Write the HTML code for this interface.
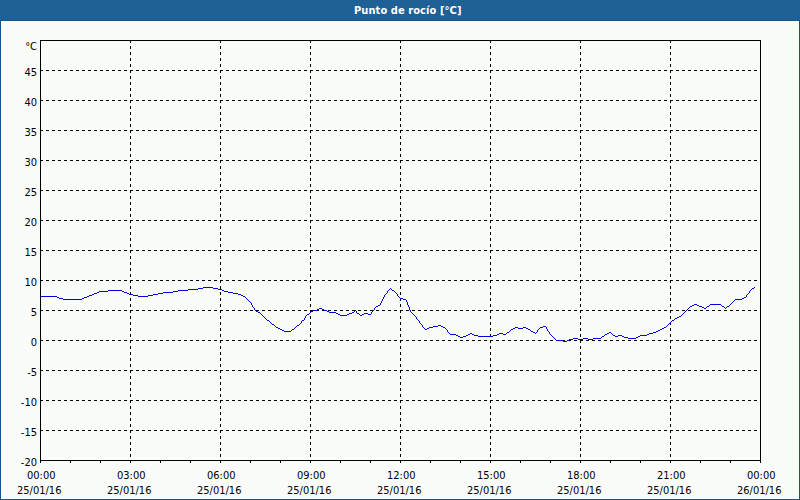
<!DOCTYPE html>
<html><head><meta charset="utf-8"><title>Punto de rocío</title>
<style>
html,body{margin:0;padding:0;}
body{width:800px;height:500px;position:relative;overflow:hidden;background:#f9fcf8;
font-family:"DejaVu Sans Condensed","DejaVu Sans","Liberation Sans",sans-serif;font-stretch:condensed;font-size:11px;color:#000;}
#bar{position:absolute;left:0;top:0;width:800px;height:20px;background:#1e6092;border-bottom:1px solid #0f548f;}
#title{position:absolute;left:0;top:0;width:800px;height:20px;color:#fff;font-weight:bold;}
#title span{position:absolute;letter-spacing:0.08px;left:354px;top:5px;line-height:11px;white-space:nowrap;}
#lb{position:absolute;left:0;top:21px;width:1px;height:479px;background:#0f548f;}
#rb{position:absolute;left:799px;top:21px;width:1px;height:479px;background:#0f548f;}
#bb{position:absolute;left:0;top:499px;width:800px;height:1px;background:#0f548f;}
.yl{position:absolute;right:763px;line-height:11px;white-space:nowrap;text-align:right;}
.xl{position:absolute;line-height:11px;white-space:nowrap;}
svg{position:absolute;left:0;top:0;}
</style></head><body>
<div id="bar"><svg width="800" height="20" style="position:absolute;left:0;top:0"><defs><pattern id="dp" width="8" height="4" patternUnits="userSpaceOnUse"><path fill="#2461ae" d="M0 0h1v1h-1zM4 1h1v1h-1zM2 2h1v1h-1zM6 3h1v1h-1z"/></pattern></defs><rect width="800" height="20" fill="url(#dp)"/></svg></div><div id="title"><span>Punto de rocío [°C]</span></div>
<div id="lb"></div><div id="rb"></div><div id="bb"></div>
<svg width="800" height="500" viewBox="0 0 800 500" shape-rendering="crispEdges">
<g stroke="#000" stroke-width="1" stroke-dasharray="3 3" fill="none">
<line x1="40" y1="70.5" x2="760" y2="70.5"/><line x1="40" y1="100.5" x2="760" y2="100.5"/><line x1="40" y1="130.5" x2="760" y2="130.5"/><line x1="40" y1="160.5" x2="760" y2="160.5"/><line x1="40" y1="190.5" x2="760" y2="190.5"/><line x1="40" y1="220.5" x2="760" y2="220.5"/><line x1="40" y1="250.5" x2="760" y2="250.5"/><line x1="40" y1="280.5" x2="760" y2="280.5"/><line x1="40" y1="310.5" x2="760" y2="310.5"/><line x1="40" y1="340.5" x2="760" y2="340.5"/><line x1="40" y1="370.5" x2="760" y2="370.5"/><line x1="40" y1="400.5" x2="760" y2="400.5"/><line x1="40" y1="430.5" x2="760" y2="430.5"/><line x1="130.5" y1="40" x2="130.5" y2="460"/><line x1="220.5" y1="40" x2="220.5" y2="460"/><line x1="310.5" y1="40" x2="310.5" y2="460"/><line x1="400.5" y1="40" x2="400.5" y2="460"/><line x1="490.5" y1="40" x2="490.5" y2="460"/><line x1="580.5" y1="40" x2="580.5" y2="460"/><line x1="670.5" y1="40" x2="670.5" y2="460"/>
</g>
<g stroke="#000" stroke-width="1" fill="none">
<rect x="40.5" y="40.5" width="720" height="420"/>
<line x1="40.5" y1="460" x2="40.5" y2="463"/><line x1="70.5" y1="460" x2="70.5" y2="463"/><line x1="100.5" y1="460" x2="100.5" y2="463"/><line x1="130.5" y1="460" x2="130.5" y2="463"/><line x1="160.5" y1="460" x2="160.5" y2="463"/><line x1="190.5" y1="460" x2="190.5" y2="463"/><line x1="220.5" y1="460" x2="220.5" y2="463"/><line x1="250.5" y1="460" x2="250.5" y2="463"/><line x1="280.5" y1="460" x2="280.5" y2="463"/><line x1="310.5" y1="460" x2="310.5" y2="463"/><line x1="340.5" y1="460" x2="340.5" y2="463"/><line x1="370.5" y1="460" x2="370.5" y2="463"/><line x1="400.5" y1="460" x2="400.5" y2="463"/><line x1="430.5" y1="460" x2="430.5" y2="463"/><line x1="460.5" y1="460" x2="460.5" y2="463"/><line x1="490.5" y1="460" x2="490.5" y2="463"/><line x1="520.5" y1="460" x2="520.5" y2="463"/><line x1="550.5" y1="460" x2="550.5" y2="463"/><line x1="580.5" y1="460" x2="580.5" y2="463"/><line x1="610.5" y1="460" x2="610.5" y2="463"/><line x1="640.5" y1="460" x2="640.5" y2="463"/><line x1="670.5" y1="460" x2="670.5" y2="463"/><line x1="700.5" y1="460" x2="700.5" y2="463"/><line x1="730.5" y1="460" x2="730.5" y2="463"/><line x1="760.5" y1="460" x2="760.5" y2="463"/>
</g>
<polyline fill="none" stroke="#0000e1" stroke-width="1" points="41,296.5 56.5,296.5 57.5,297.5 58.5,297.5 59.5,298.5 62.5,298.5 63.5,299.5 81.5,299.5 82.5,298.5 83.5,298.5 84.5,297.5 86.5,297.5 87.5,296.5 88.5,296.5 89.5,295.5 91.5,295.5 92.5,294.5 93.5,294.5 94.5,293.5 96.5,293.5 97.5,292.5 98.5,292.5 99.5,291.5 107.5,291.5 108.5,290.5 121.5,290.5 122.5,291.5 123.5,291.5 124.5,292.5 126.5,292.5 127.5,293.5 128.5,293.5 129.5,294.5 132.5,294.5 133.5,295.5 137.5,295.5 138.5,296.5 147.5,296.5 148.5,295.5 152.5,295.5 153.5,294.5 157.5,294.5 158.5,293.5 162.5,293.5 163.5,292.5 172.5,292.5 173.5,291.5 177.5,291.5 178.5,290.5 187.5,290.5 188.5,289.5 197.5,289.5 198.5,288.5 202.5,288.5 203.5,287.5 212.5,287.5 213.5,288.5 217.5,288.5 218.5,289.5 221.5,289.5 222.5,290.5 223.5,290.5 224.5,291.5 227.5,291.5 228.5,292.5 232.5,292.5 233.5,293.5 237.5,293.5 238.5,294.5 240.5,294.5 241.5,295.5 242.5,295.5 243.5,296.5 244.5,296.5 251.5,303.5 251.5,304.5 252.5,305.5 252.5,306.5 254.5,308.5 254.5,309.5 256.5,311.5 257.5,311.5 258.5,312.5 259.5,312.5 267.5,320.5 268.5,320.5 272.5,324.5 273.5,324.5 276.5,327.5 277.5,327.5 278.5,328.5 279.5,328.5 280.5,329.5 281.5,329.5 282.5,330.5 283.5,330.5 284.5,331.5 290.5,331.5 292.5,329.5 293.5,329.5 297.5,325.5 298.5,325.5 301.5,322.5 301.5,321.5 302.5,320.5 303.5,320.5 304.5,319.5 304.5,318.5 305.5,317.5 305.5,316.5 307.5,314.5 308.5,314.5 311.5,311.5 312.5,311.5 313.5,310.5 316.5,310.5 317.5,309.5 318.5,309.5 319.5,308.5 321.5,308.5 322.5,309.5 323.5,309.5 324.5,310.5 326.5,310.5 327.5,311.5 328.5,311.5 329.5,312.5 335.5,312.5 336.5,313.5 337.5,313.5 338.5,314.5 339.5,314.5 340.5,315.5 346.5,315.5 347.5,314.5 348.5,314.5 349.5,313.5 351.5,313.5 352.5,312.5 353.5,312.5 355.5,310.5 356.5,311.5 356.5,312.5 357.5,313.5 358.5,313.5 360.5,315.5 361.5,315.5 362.5,314.5 363.5,314.5 364.5,313.5 367.5,313.5 368.5,314.5 370.5,314.5 371.5,313.5 371.5,312.5 374.5,309.5 374.5,308.5 376.5,306.5 377.5,306.5 378.5,305.5 379.5,305.5 380.5,304.5 380.5,303.5 381.5,302.5 381.5,301.5 382.5,300.5 382.5,299.5 383.5,298.5 383.5,297.5 384.5,296.5 384.5,295.5 387.5,292.5 387.5,291.5 390.5,288.5 392.5,290.5 393.5,290.5 397.5,294.5 397.5,295.5 400.5,298.5 402.5,298.5 403.5,299.5 405.5,299.5 406.5,300.5 406.5,301.5 407.5,302.5 407.5,304.5 408.5,305.5 408.5,306.5 409.5,307.5 409.5,309.5 410.5,310.5 410.5,311.5 416.5,317.5 416.5,318.5 419.5,321.5 419.5,322.5 422.5,325.5 422.5,326.5 425.5,329.5 426.5,329.5 427.5,328.5 428.5,328.5 429.5,327.5 432.5,327.5 433.5,326.5 437.5,326.5 438.5,325.5 440.5,325.5 441.5,326.5 442.5,326.5 443.5,327.5 444.5,327.5 447.5,330.5 447.5,331.5 450.5,334.5 455.5,334.5 456.5,335.5 457.5,335.5 458.5,336.5 459.5,336.5 460.5,337.5 462.5,337.5 463.5,336.5 465.5,336.5 466.5,335.5 467.5,335.5 468.5,334.5 469.5,334.5 470.5,333.5 471.5,333.5 472.5,334.5 473.5,334.5 474.5,335.5 477.5,335.5 478.5,336.5 492.5,336.5 493.5,335.5 496.5,335.5 497.5,334.5 498.5,334.5 499.5,333.5 502.5,333.5 503.5,334.5 505.5,334.5 507.5,332.5 508.5,332.5 511.5,329.5 512.5,329.5 513.5,328.5 514.5,328.5 515.5,327.5 517.5,327.5 518.5,328.5 522.5,328.5 523.5,327.5 525.5,327.5 526.5,328.5 527.5,328.5 528.5,329.5 529.5,329.5 531.5,331.5 532.5,331.5 533.5,332.5 534.5,332.5 535.5,333.5 537.5,331.5 537.5,330.5 540.5,327.5 542.5,327.5 543.5,326.5 545.5,326.5 546.5,327.5 546.5,328.5 547.5,329.5 547.5,330.5 549.5,332.5 549.5,333.5 556.5,340.5 562.5,340.5 563.5,341.5 566.5,341.5 567.5,340.5 568.5,340.5 569.5,339.5 572.5,339.5 573.5,338.5 577.5,338.5 578.5,339.5 582.5,339.5 583.5,338.5 587.5,338.5 588.5,339.5 592.5,339.5 593.5,338.5 600.5,338.5 602.5,336.5 603.5,336.5 605.5,334.5 606.5,334.5 607.5,333.5 608.5,333.5 609.5,332.5 610.5,332.5 613.5,335.5 614.5,335.5 615.5,336.5 617.5,336.5 618.5,335.5 621.5,335.5 622.5,336.5 623.5,336.5 624.5,337.5 627.5,337.5 628.5,338.5 635.5,338.5 636.5,337.5 637.5,337.5 638.5,336.5 639.5,336.5 640.5,335.5 646.5,335.5 647.5,334.5 648.5,334.5 649.5,333.5 652.5,333.5 653.5,332.5 655.5,332.5 656.5,331.5 657.5,331.5 658.5,330.5 659.5,330.5 660.5,329.5 661.5,329.5 662.5,328.5 663.5,328.5 664.5,327.5 665.5,327.5 672.5,320.5 673.5,320.5 675.5,318.5 676.5,318.5 677.5,317.5 678.5,317.5 679.5,316.5 680.5,316.5 690.5,306.5 691.5,306.5 692.5,305.5 693.5,305.5 694.5,304.5 696.5,304.5 697.5,305.5 698.5,305.5 699.5,306.5 701.5,306.5 702.5,307.5 703.5,307.5 704.5,308.5 705.5,308.5 707.5,306.5 708.5,306.5 710.5,304.5 720.5,304.5 722.5,306.5 723.5,306.5 725.5,308.5 727.5,306.5 728.5,306.5 735.5,299.5 741.5,299.5 742.5,298.5 743.5,298.5 744.5,297.5 745.5,297.5 746.5,296.5 746.5,295.5 749.5,292.5 749.5,291.5 752.5,288.5 753.5,288.5 754.5,287.5"/>
</svg>
<div class="yl" style="top:41px">°C</div><div class="yl" style="top:67px">45</div><div class="yl" style="top:97px">40</div><div class="yl" style="top:127px">35</div><div class="yl" style="top:157px">30</div><div class="yl" style="top:187px">25</div><div class="yl" style="top:217px">20</div><div class="yl" style="top:247px">15</div><div class="yl" style="top:277px">10</div><div class="yl" style="top:307px">5</div><div class="yl" style="top:337px">0</div><div class="yl" style="top:367px">-5</div><div class="yl" style="top:397px">-10</div><div class="yl" style="top:427px">-15</div><div class="yl" style="top:457px">-20</div><div class="xl" style="left:27px;top:470px">00:00</div><div class="xl" style="left:17px;top:485px">25/01/16</div><div class="xl" style="left:117px;top:470px">03:00</div><div class="xl" style="left:107px;top:485px">25/01/16</div><div class="xl" style="left:207px;top:470px">06:00</div><div class="xl" style="left:197px;top:485px">25/01/16</div><div class="xl" style="left:297px;top:470px">09:00</div><div class="xl" style="left:287px;top:485px">25/01/16</div><div class="xl" style="left:387px;top:470px">12:00</div><div class="xl" style="left:377px;top:485px">25/01/16</div><div class="xl" style="left:477px;top:470px">15:00</div><div class="xl" style="left:467px;top:485px">25/01/16</div><div class="xl" style="left:567px;top:470px">18:00</div><div class="xl" style="left:557px;top:485px">25/01/16</div><div class="xl" style="left:657px;top:470px">21:00</div><div class="xl" style="left:647px;top:485px">25/01/16</div><div class="xl" style="left:747px;top:470px">00:00</div><div class="xl" style="left:737px;top:485px">26/01/16</div>
</body></html>
